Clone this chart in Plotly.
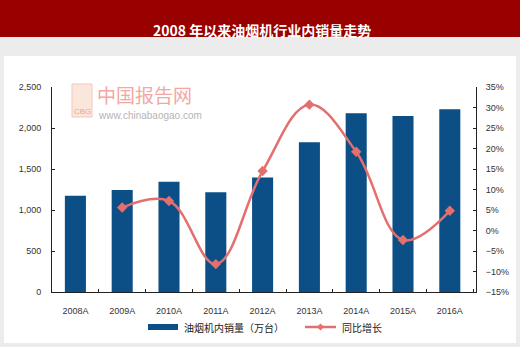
import plotly.graph_objects as go

years = ["2008A", "2009A", "2010A", "2011A", "2012A", "2013A", "2014A", "2015A", "2016A"]
sales = [1175, 1245, 1345, 1215, 1395, 1825, 2180, 2145, 2230]
growth_years = ["2009A", "2010A", "2011A", "2012A", "2013A", "2014A", "2015A", "2016A"]
growth = [5.6, 7.2, -8.2, 14.5, 30.7, 19.2, -2.3, 4.8]

BAR_COLOR = "#0b4f86"
LINE_COLOR = "#e46f6f"

W, H = 520, 347
L, R, T, B = 52, 476, 87, 292


def px(x):
    return (x - L) / (R - L)


def py(y):
    return (B - y) / (B - T)


fig = go.Figure()
fig.add_trace(go.Bar(
    x=years, y=sales, name="油烟机内销量（万台）",
    marker=dict(color=BAR_COLOR, line=dict(width=0)),
    yaxis="y", showlegend=False,
))
fig.add_trace(go.Scatter(
    x=growth_years, y=growth, name="同比增长", mode="lines+markers",
    line=dict(color=LINE_COLOR, width=2.5, shape="spline", smoothing=1.1),
    marker=dict(symbol="diamond", size=8, color=LINE_COLOR),
    yaxis="y2", showlegend=False,
))

tickfont = dict(family="Liberation Sans, Arial", size=9, color="#333333")
legfont = dict(family="Noto Sans CJK SC", size=10, color="#222222")

shapes = [
    dict(type="rect", xref="paper", yref="paper", x0=px(4), x1=px(516), y0=py(56), y1=py(343),
         fillcolor="white", line=dict(width=0), layer="below"),
    dict(type="rect", xref="paper", yref="paper", x0=px(0), x1=px(520), y0=py(0), y1=py(37),
         fillcolor="#990000", line=dict(width=0), layer="below"),
    dict(type="rect", xref="paper", yref="paper", x0=px(72), x1=px(92), y0=py(84), y1=py(117),
         fillcolor="#fbe6dc", line=dict(color="#f3c9b8", width=1), layer="below"),
    # legend
    dict(type="rect", xref="paper", yref="paper", x0=px(148), x1=px(178), y0=py(324), y1=py(330),
         fillcolor=BAR_COLOR, line=dict(width=0)),
    dict(type="line", xref="paper", yref="paper", x0=px(305), x1=px(336), y0=py(327), y1=py(327),
         line=dict(color=LINE_COLOR, width=2.5)),
    dict(type="path", xref="paper", yref="paper",
         path="M {} {} L {} {} L {} {} L {} {} Z".format(
             px(320.5), py(323.5), px(324), py(327), px(320.5), py(330.5), px(317), py(327)),
         fillcolor=LINE_COLOR, line=dict(width=0)),
]

annotations = [
    dict(text="<b>2008 年以来油烟机行业内销量走势</b>", xref="paper", yref="paper",
         x=px(262), y=py(18), showarrow=False,
         font=dict(family="Noto Sans CJK SC", size=14, color="white")),
    dict(text="中国报告网", xref="paper", yref="paper", x=px(95), y=py(94),
         xanchor="left", yanchor="middle", showarrow=False,
         font=dict(family="Noto Sans CJK SC", size=19, color="#f2a7a3")),
    dict(text="www.chinabaogao.com", xref="paper", yref="paper", x=px(96), y=py(115),
         xanchor="left", yanchor="middle", showarrow=False,
         font=dict(family="Liberation Sans, Arial", size=10, color="#b5b5b5")),
    dict(text="CBG", xref="paper", yref="paper", x=px(82), y=py(111),
         xanchor="center", yanchor="middle", showarrow=False,
         font=dict(family="Liberation Sans, Arial", size=8, color="#f0a58a")),
    dict(text="油烟机内销量（万台）", xref="paper", yref="paper", x=px(182), y=py(327),
         xanchor="left", yanchor="middle", showarrow=False, font=legfont),
    dict(text="同比增长", xref="paper", yref="paper", x=px(340), y=py(327),
         xanchor="left", yanchor="middle", showarrow=False, font=legfont),
]

fig.update_layout(
    width=W, height=H,
    margin=dict(l=L, r=W - R, t=T, b=H - B),
    paper_bgcolor="#ececec",
    plot_bgcolor="white",
    bargap=0.55,
    showlegend=False,
    xaxis=dict(showline=True, linecolor="#222222", linewidth=1, ticks="inside",
               tickson="boundaries", ticklen=3, tickcolor="#222222",
               tickfont=tickfont, showgrid=False, ticklabelstandoff=10),
    yaxis=dict(range=[0, 2500], dtick=500, tickformat=",", showline=True,
               linecolor="#222222", linewidth=1, ticks="inside", ticklen=3,
               tickcolor="#222222", tickfont=tickfont, showgrid=False, zeroline=False,
               ticklabelstandoff=8),
    yaxis2=dict(range=[-15, 35], dtick=5, ticksuffix="%", overlaying="y", side="right",
                showline=True, linecolor="#222222", linewidth=1, ticks="inside", ticklen=3,
                tickcolor="#222222", tickfont=tickfont, showgrid=False, zeroline=False,
                ticklabelstandoff=7),
    shapes=shapes,
    annotations=annotations,
)

fig.write_html("out.html")
